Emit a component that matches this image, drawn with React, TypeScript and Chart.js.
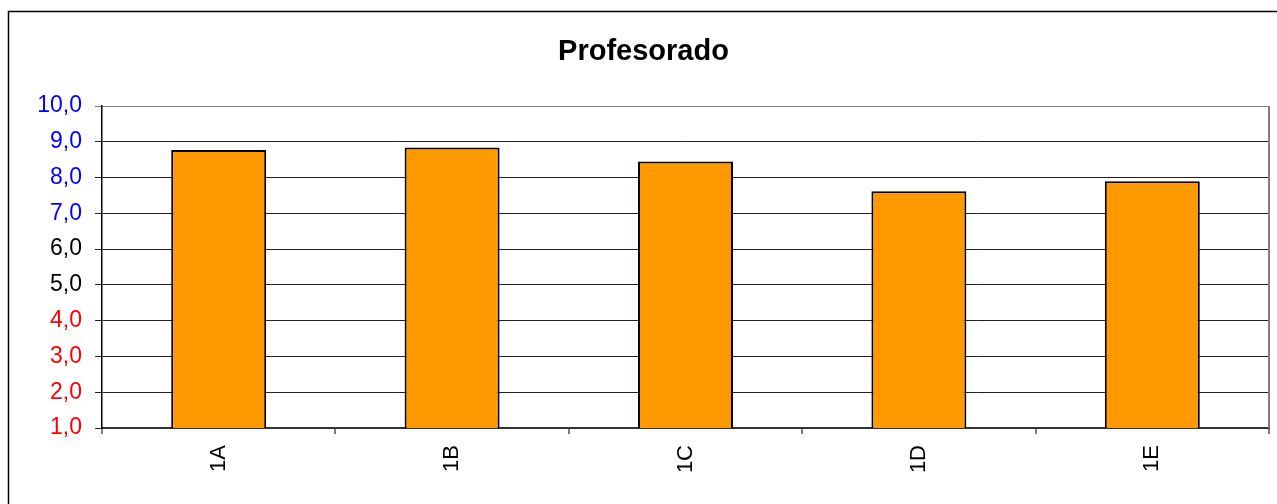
import React, { useEffect, useRef } from "react";
import { Chart, registerables } from "chart.js";

Chart.register(...registerables);

const titleText = "Profesorado";
const categories = ["1A", "1B", "1C", "1D", "1E"];
const values = [8.77, 8.84, 8.45, 7.62, 7.9];
const yMin = 1;
const yMax = 10;
const yStep = 1;

const FONT = "'Liberation Sans', Arial, sans-serif";

const framePlugin = {
  id: "frame",
  beforeDraw(chart: any) {
    const ctx = chart.ctx;
    ctx.save();
    ctx.fillStyle = "#ffffff";
    ctx.fillRect(0, 0, chart.width, chart.height);
    ctx.strokeStyle = "#000000";
    ctx.lineWidth = 1.5;
    ctx.strokeRect(8.5, 11.5, 1400, 700);
    ctx.fillStyle = "#000000";
    ctx.font = `bold 29px ${FONT}`;
    ctx.textAlign = "center";
    ctx.textBaseline = "alphabetic";
    ctx.fillText(titleText, 643.5, 59.5);
    ctx.restore();
  },
  afterDraw(chart: any) {
    const { ctx, chartArea } = chart;
    ctx.save();
    ctx.strokeStyle = "#808080";
    ctx.lineWidth = 2;
    ctx.beginPath();
    ctx.moveTo(chartArea.right, chartArea.top);
    ctx.lineTo(chartArea.right, chartArea.bottom);
    ctx.stroke();
    ctx.restore();
  },
};

export default function App() {
  const ref = useRef<HTMLCanvasElement | null>(null);

  useEffect(() => {
    if (!ref.current) return;
    const chart = new Chart(ref.current, {
      type: "bar",
      data: {
        labels: categories,
        datasets: [
          {
            data: values,
            backgroundColor: "#FF9900",
            borderColor: "#000000",
            borderWidth: 2,
            barPercentage: 0.407,
            categoryPercentage: 1,
          },
        ],
      },
      options: {
        responsive: false,
        animation: false,
        layout: { padding: { left: 0, right: 8, top: 106, bottom: 0 } },
        plugins: {
          legend: { display: false },
          tooltip: { enabled: false },
          title: { display: false },
        },
        scales: {
          x: {
            type: "category",
            offset: true,
            grid: {
              offset: true,
              drawOnChartArea: false,
              drawTicks: true,
              tickLength: 6,
              color: "#808080",
              lineWidth: 2,
            },
            border: { color: "#333333", width: 2 },
            ticks: {
              minRotation: 90,
              maxRotation: 90,
              padding: 11,
              color: "#000000",
              font: { family: FONT, size: 22 },
            },
            afterFit: (s: any) => {
              s.height = 76;
            },
          },
          y: {
            min: yMin,
            max: yMax,
            grid: {
              tickLength: 7,
              color: (c: any) => (c.tick && c.tick.value === yMax ? "#808080" : "#222222"),
              lineWidth: 1,
            },
            border: { color: "#000000", width: 1.5 },
            ticks: {
              stepSize: yStep,
              padding: 13,
              font: { family: FONT, size: 23 },
              color: (c: any) => {
                const v = c.tick ? c.tick.value : 0;
                if (v >= 7) return "#0000FF";
                if (v >= 5) return "#000000";
                return "#FF0000";
              },
              callback: (v: any) => Number(v).toFixed(1).replace(".", ","),
            },
            afterFit: (s: any) => {
              s.width = 102;
            },
          },
        },
      },
      plugins: [framePlugin],
    });
    return () => chart.destroy();
  }, []);

  return (
    <div style={{ position: "fixed", left: 0, top: 0, width: 1277, height: 504, background: "#fff" }}>
      <canvas ref={ref} width={1277} height={504} style={{ display: "block" }} />
    </div>
  );
}
